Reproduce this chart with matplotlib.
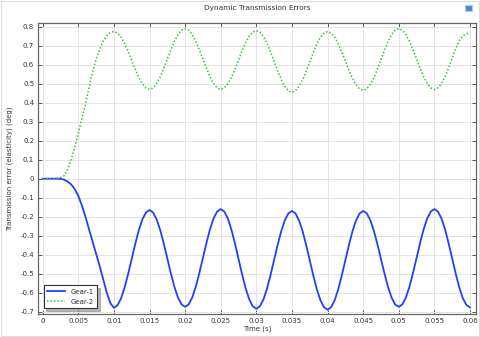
import numpy as np
import matplotlib
matplotlib.use("Agg")
import matplotlib.pyplot as plt
from matplotlib.patches import Rectangle

# time grid (s), samples every 0.0005 s
time_s = np.linspace(0.0, 0.06, 121)

gear1 = [
    0.0, 0.0, 0.0, 0.0, 0.0, -0.001, -0.005, -0.015, -0.03, -0.055,
    -0.09, -0.14, -0.2, -0.265, -0.33, -0.395, -0.46, -0.53, -0.6, -0.655,
    -0.68, -0.667, -0.631, -0.574, -0.502, -0.423, -0.343, -0.271, -0.214, -0.178,
    -0.165, -0.178, -0.214, -0.27, -0.341, -0.42, -0.499, -0.57, -0.626, -0.662,
    -0.675, -0.662, -0.626, -0.569, -0.497, -0.4175, -0.338, -0.266, -0.209, -0.173,
    -0.16, -0.173, -0.21, -0.268, -0.341, -0.4225, -0.504, -0.577, -0.635, -0.672,
    -0.685, -0.672, -0.636, -0.579, -0.507, -0.4275, -0.348, -0.276, -0.219, -0.183,
    -0.17, -0.183, -0.22, -0.277, -0.35, -0.43, -0.51, -0.583, -0.64, -0.677,
    -0.69, -0.677, -0.64, -0.583, -0.51, -0.43, -0.35, -0.277, -0.22, -0.183,
    -0.17, -0.182, -0.218, -0.274, -0.345, -0.4225, -0.5, -0.571, -0.627, -0.663,
    -0.675, -0.662, -0.626, -0.569, -0.497, -0.4175, -0.338, -0.266, -0.209, -0.173,
    -0.16, -0.173, -0.21, -0.267, -0.34, -0.42, -0.5, -0.573, -0.63, -0.665,
    -0.678,
]

gear2 = [
    0.0, 0.0, 0.0, 0.0, 0.001, 0.005, 0.015, 0.05, 0.1, 0.165,
    0.24, 0.315, 0.39, 0.48, 0.56, 0.63, 0.68, 0.725, 0.752, 0.77,
    0.775, 0.767, 0.746, 0.712, 0.67, 0.6225, 0.575, 0.533, 0.499, 0.478,
    0.47, 0.478, 0.501, 0.536, 0.581, 0.63, 0.679, 0.724, 0.759, 0.782,
    0.79, 0.782, 0.759, 0.724, 0.679, 0.63, 0.581, 0.536, 0.501, 0.478,
    0.47, 0.478, 0.5, 0.534, 0.577, 0.625, 0.673, 0.716, 0.75, 0.772,
    0.78, 0.772, 0.749, 0.713, 0.668, 0.6175, 0.567, 0.522, 0.486, 0.463,
    0.455, 0.463, 0.486, 0.521, 0.566, 0.615, 0.664, 0.709, 0.744, 0.767,
    0.775, 0.767, 0.745, 0.711, 0.668, 0.62, 0.572, 0.529, 0.495, 0.473,
    0.465, 0.473, 0.496, 0.532, 0.577, 0.6275, 0.678, 0.723, 0.759, 0.782,
    0.79, 0.782, 0.759, 0.724, 0.679, 0.63, 0.581, 0.536, 0.501, 0.478,
    0.47, 0.478, 0.501, 0.537, 0.583, 0.634, 0.684, 0.727, 0.752, 0.763,
    0.768,
]

x_ticks = [0, 0.005, 0.01, 0.015, 0.02, 0.025, 0.03, 0.035, 0.04, 0.045, 0.05, 0.055, 0.06]
x_ticklabels = ["0", "0.005", "0.01", "0.015", "0.02", "0.025", "0.03", "0.035",
                "0.04", "0.045", "0.05", "0.055", "0.06"]
y_ticks = [-0.7, -0.6, -0.5, -0.4, -0.3, -0.2, -0.1, 0, 0.1, 0.2, 0.3, 0.4, 0.5, 0.6, 0.7, 0.8]
y_ticklabels = ["-0.7", "-0.6", "-0.5", "-0.4", "-0.3", "-0.2", "-0.1", "0",
                "0.1", "0.2", "0.3", "0.4", "0.5", "0.6", "0.7", "0.8"]

plt.rcParams['font.family'] = ['DejaVu Sans']
fig = plt.figure(figsize=(4.8, 3.37), dpi=100)
fig.patch.set_facecolor("white")
fig.patches.append(Rectangle((0.002, 0.003), 0.996, 0.994, transform=fig.transFigure,
                             fill=False, edgecolor="#dddddd", linewidth=0.8))
ax = fig.add_axes([0.080, 0.068, 0.911, 0.865])

ax.plot(time_s, gear1, color="#1f40ff", linewidth=1.3, label="Gear-1", zorder=3)
ax.plot(time_s, gear2, color="#33c433", linewidth=1.1, linestyle=(0, (1, 1.3)),
        label="Gear-2", zorder=3)

ax.set_xlim(-0.0006, 0.0608)
ax.set_ylim(-0.713, 0.822)
ax.set_xticks(x_ticks)
ax.set_xticklabels(x_ticklabels)
ax.set_yticks(y_ticks)
ax.set_yticklabels(y_ticklabels)

ax.grid(True, color="#e4e4e4", linewidth=0.7, zorder=0)
ax.set_axisbelow(True)
ax.tick_params(direction="in", length=3, width=0.7, colors="#555555",
               labelsize=5.0, labelcolor="#333333", top=True, right=True, pad=3)
for s in ax.spines.values():
    s.set_color("#666666")
    s.set_linewidth(0.9)

ax.set_title("Dynamic Transmission Errors", fontsize=5.3, color="#333333", pad=9)
ax.set_xlabel("Time (s)", fontsize=5.0, color="#333333", labelpad=1)
ax.set_ylabel("Transmission error (elasticity) (deg)", fontsize=5.0, color="#333333", labelpad=5)

leg = ax.legend(loc="lower left", bbox_to_anchor=(0.012, 0.02), borderaxespad=0,
                fontsize=5.0, fancybox=False,
                shadow={"ox": 2, "oy": -2, "color": "#888888", "alpha": 0.6},
                framealpha=1, edgecolor="#333333", handlelength=2.6,
                handletextpad=0.8, labelspacing=0.6, borderpad=0.5)
leg.get_frame().set_linewidth(0.8)
for t in leg.get_texts():
    t.set_color("#333333")

# small icon at top right
fig.patches.append(Rectangle((0.968, 0.966), 0.016, 0.018, transform=fig.transFigure,
                             facecolor="#4a86d8", edgecolor="#b9cde8", linewidth=0.8))

fig.savefig("out.png", dpi=100)
